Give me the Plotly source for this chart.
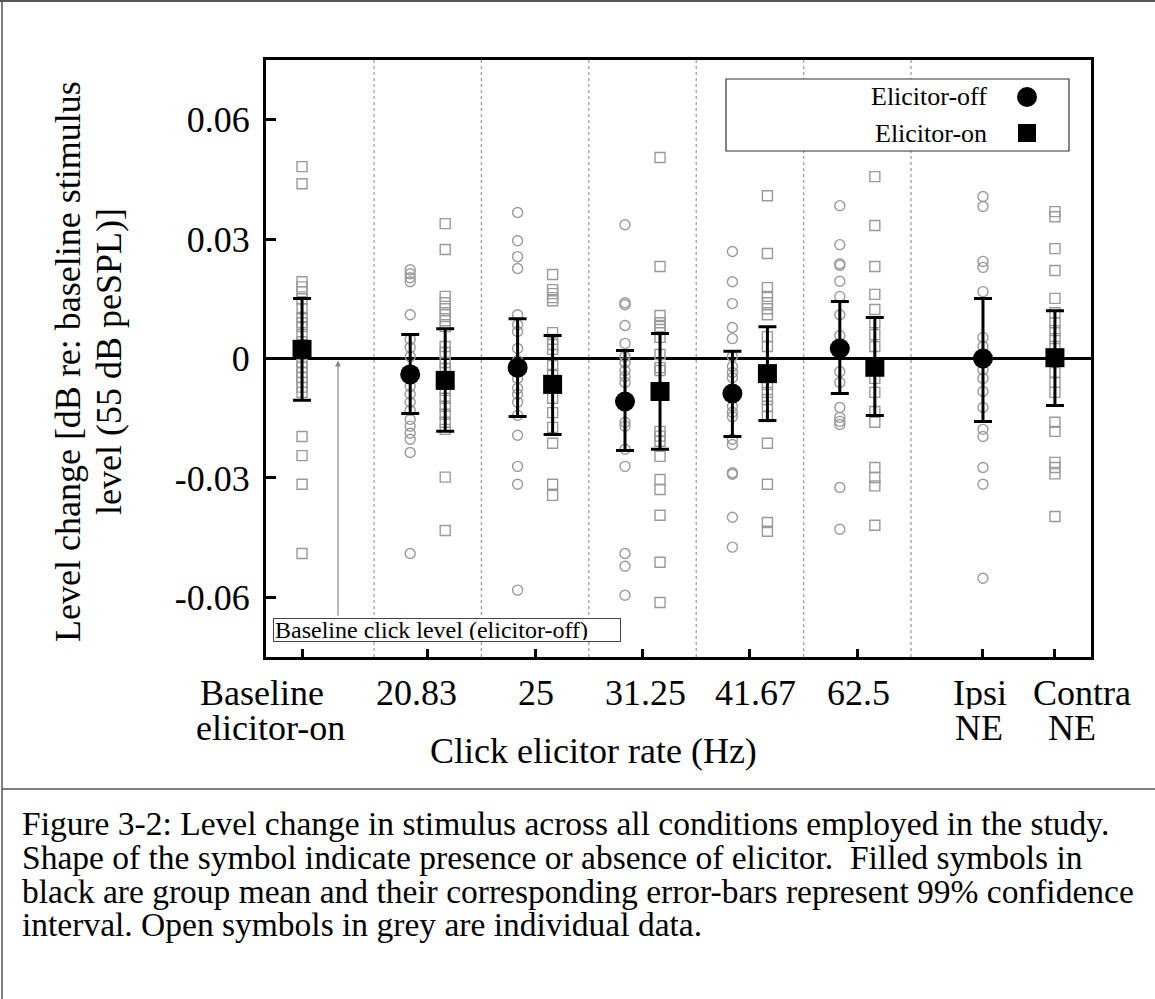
import plotly.graph_objects as go

# ---- condition labels (two text rows under the x axis) ----
label_row1 = ["Baseline", "20.83", "25", "31.25", "41.67", "62.5", "Ipsi", "Contra"]
label_row2 = ["elicitor-on", "", "", "", "", "", "NE", "NE"]
x_title = "Click elicitor rate (Hz)"
y_tick_vals = [-0.06, -0.03, 0.0, 0.03, 0.06]
y_tick_text = ["-0.06", "-0.03", "0", "0.03", "0.06"]

# ---- individual data (dB re: baseline stimulus level) ----
baseline_on = [0.0482, 0.0439, 0.0193, 0.0180, 0.0168, 0.0150, 0.0125, 0.0103, 0.0090,
               0.0080, 0.0060, 0.0042, 0.0025, 0.0010, -0.0010, -0.0022, -0.0035, -0.0048,
               -0.0060, -0.0072, -0.0085, -0.0196, -0.0244, -0.0316, -0.0490]
r2083_off = [0.0223, 0.0213, 0.0203, 0.0193, 0.0110, 0.0048, 0.0028, 0.0005, -0.0030,
             -0.0070, -0.0090, -0.0110, -0.0130, -0.0153, -0.0170, -0.0188, -0.0203,
             -0.0236, -0.0490]
r2083_on = [0.0339, 0.0274, 0.0156, 0.0140, 0.0125, 0.0110, 0.0095, 0.0080, 0.0030,
            0.0015, -0.0010, -0.0025, -0.0080, -0.0100, -0.0120, -0.0140, -0.0160,
            -0.0178, -0.0298, -0.0432]
r25_off = [0.0367, 0.0296, 0.0256, 0.0226, 0.0110, 0.0085, 0.0068, 0.0025, -0.0005,
           -0.0050, -0.0075, -0.0090, -0.0110, -0.0143, -0.0193, -0.0271, -0.0316, -0.0582]
r25_on = [0.0211, 0.0173, 0.0163, 0.0153, 0.0145, 0.0065, 0.0048, 0.0035, 0.0023,
          -0.0018, -0.0040, -0.0100, -0.0136, -0.0173, -0.0213, -0.0316, -0.0344]
r3125_off = [0.0336, 0.0140, 0.0135, 0.0083, 0.0038, 0.0005, -0.0010, -0.0030, -0.0045,
             -0.0060, -0.0160, -0.0170, -0.0228, -0.0271, -0.0490, -0.0522, -0.0595]
r3125_on = [0.0505, 0.0231, 0.0108, 0.0090, 0.0080, 0.0073, 0.0053, 0.0010, -0.0023,
            -0.0030, -0.0183, -0.0195, -0.0208, -0.0246, -0.0304, -0.0329, -0.0394,
            -0.0512, -0.0613]
r4167_off = [0.0269, 0.0193, 0.0138, 0.0078, 0.0050, 0.0005, -0.0020, -0.0035, -0.0048,
             -0.0120, -0.0135, -0.0146, -0.0203, -0.0216, -0.0287, -0.0291, -0.0399, -0.0474]
r4167_on = [0.0409, 0.0264, 0.0178, 0.0156, 0.0140, 0.0125, 0.0110, 0.0055, 0.0030,
            -0.0065, -0.0085, -0.0103, -0.0120, -0.0146, -0.0213, -0.0316, -0.0412, -0.0434]
r625_off = [0.0384, 0.0286, 0.0238, 0.0234, 0.0194, 0.0156, 0.0110, 0.0058, -0.0033,
            -0.0060, -0.0123, -0.0148, -0.0158, -0.0166, -0.0324, -0.0429]
r625_on = [0.0457, 0.0334, 0.0231, 0.0161, 0.0123, 0.0090, 0.0060, 0.0030, -0.0050,
           -0.0085, -0.0133, -0.0160, -0.0274, -0.0299, -0.0320, -0.0419]
ipsi_off = [0.0407, 0.0382, 0.0244, 0.0229, 0.0168, 0.0053, 0.0030, -0.0028, -0.0050,
            -0.0083, -0.0123, -0.0178, -0.0196, -0.0274, -0.0316, -0.0552]
contra_on = [0.0369, 0.0356, 0.0276, 0.0221, 0.0151, 0.0115, 0.0090, 0.0070, 0.0050,
             0.0030, -0.0035, -0.0060, -0.0085, -0.0160, -0.0183, -0.0261, -0.0274,
             -0.0290, -0.0397]

# ---- group means and 99% confidence limits ----
off_groups = ["20.83", "25", "31.25", "41.67", "62.5", "Ipsi"]
off_mean = [-0.0040, -0.0023, -0.0108, -0.0088, 0.0025, 0.0000]
off_low = [-0.0138, -0.0146, -0.0231, -0.0196, -0.0088, -0.0158]
off_high = [0.0060, 0.0100, 0.0020, 0.0018, 0.0143, 0.0151]

on_groups = ["Baseline", "20.83", "25", "31.25", "41.67", "62.5", "Contra"]
on_mean = [0.0023, -0.0055, -0.0065, -0.0083, -0.0038, -0.0022, 0.0002]
on_low = [-0.0105, -0.0183, -0.0191, -0.0228, -0.0156, -0.0143, -0.0118]
on_high = [0.0151, 0.0075, 0.0058, 0.0063, 0.0080, 0.0103, 0.0120]

individual_off = {"20.83": r2083_off, "25": r25_off, "31.25": r3125_off,
                  "41.67": r4167_off, "62.5": r625_off, "Ipsi": ipsi_off}
individual_on = {"Baseline": baseline_on, "20.83": r2083_on, "25": r25_on,
                 "31.25": r3125_on, "41.67": r4167_on, "62.5": r625_on,
                 "Contra": contra_on}

# ---- horizontal layout of the condition slots ----
slot_x = {"Baseline": 0.83, "20.83": 2, "25": 3, "31.25": 4, "41.67": 5,
          "62.5": 6, "Ipsi": 7.17, "Contra": 7.84}
paired = {"20.83", "25", "31.25", "41.67", "62.5"}
pair_shift = 0.163
separators = [1.5, 2.5, 3.5, 4.5, 5.5, 6.5]
X_RANGE = [0.4944, 8.1757]
Y_RANGE = [-0.075, 0.075]


def xpos(group, side):
    if group in paired:
        return slot_x[group] + (-pair_shift if side == "off" else pair_shift)
    return slot_x[group]


SERIF = "Liberation Serif"
GREY = "#9a9a9a"

fig = go.Figure()

# individual listeners (open grey symbols)
xs, ys = [], []
for g, vals in individual_off.items():
    xs += [xpos(g, "off")] * len(vals)
    ys += vals
fig.add_trace(go.Scatter(x=xs, y=ys, mode="markers", showlegend=False, hoverinfo="skip",
                         marker=dict(symbol="circle-open", size=10, color=GREY,
                                     line=dict(width=1.4, color=GREY))))
xs, ys = [], []
for g, vals in individual_on.items():
    xs += [xpos(g, "on")] * len(vals)
    ys += vals
fig.add_trace(go.Scatter(x=xs, y=ys, mode="markers", showlegend=False, hoverinfo="skip",
                         marker=dict(symbol="square-open", size=10, color=GREY,
                                     line=dict(width=1.4, color=GREY))))

# group means with 99% CI
fig.add_trace(go.Scatter(
    x=[xpos(g, "off") for g in off_groups], y=off_mean, mode="markers", showlegend=False,
    marker=dict(symbol="circle", size=20, color="black", line=dict(width=0)),
    error_y=dict(type="data", symmetric=False,
                 array=[h - m for h, m in zip(off_high, off_mean)],
                 arrayminus=[m - l for m, l in zip(off_mean, off_low)],
                 thickness=3, width=9, color="black")))
fig.add_trace(go.Scatter(
    x=[xpos(g, "on") for g in on_groups], y=on_mean, mode="markers", showlegend=False,
    marker=dict(symbol="square", size=19, color="black", line=dict(width=0)),
    error_y=dict(type="data", symmetric=False,
                 array=[h - m for h, m in zip(on_high, on_mean)],
                 arrayminus=[m - l for m, l in zip(on_mean, on_low)],
                 thickness=3, width=9, color="black")))

shapes = []
for s in separators:
    shapes.append(dict(type="line", xref="x", yref="paper", x0=s, x1=s, y0=0, y1=1,
                       line=dict(color="#a0a0a0", width=1.3, dash="dot"), layer="below"))

# page frame: left edge, top edge and caption rule
PL, PR, PT, PB = 266, 1091, 60, 657
def px_x(p):
    return (p - PL) / (PR - PL)
def px_y(p):
    return (PB - p) / (PB - PT)

shapes.append(dict(type="line", xref="paper", yref="paper", x0=px_x(2), x1=px_x(2),
                   y0=px_y(0), y1=px_y(999), line=dict(color="#555", width=1.5)))
shapes.append(dict(type="line", xref="paper", yref="paper", x0=px_x(0), x1=px_x(1155),
                   y0=px_y(1), y1=px_y(1), line=dict(color="#555", width=2)))
shapes.append(dict(type="line", xref="paper", yref="paper", x0=px_x(2), x1=px_x(1155),
                   y0=px_y(789), y1=px_y(789), line=dict(color="#555", width=1.5)))

# legend box with symbols on the right
shapes.append(dict(type="rect", xref="paper", yref="paper", x0=px_x(726), x1=px_x(1069),
                   y0=px_y(151), y1=px_y(79), line=dict(color="#333", width=1.2),
                   fillcolor="white"))
shapes.append(dict(type="circle", xref="paper", yref="paper", xsizemode="pixel",
                   ysizemode="pixel", xanchor=px_x(1027), yanchor=px_y(97),
                   x0=-10, x1=10, y0=-10, y1=10, fillcolor="black", line=dict(width=0)))
shapes.append(dict(type="rect", xref="paper", yref="paper", xsizemode="pixel",
                   ysizemode="pixel", xanchor=px_x(1027), yanchor=px_y(133),
                   x0=-9, x1=9, y0=-9, y1=9, fillcolor="black", line=dict(width=0)))

ann = []
ann.append(dict(xref="paper", yref="paper", x=px_x(989), y=px_y(97), xanchor="right",
                yanchor="middle", showarrow=False, text="Elicitor-off",
                font=dict(family=SERIF, size=26, color="black")))
ann.append(dict(xref="paper", yref="paper", x=px_x(989), y=px_y(133), xanchor="right",
                yanchor="middle", showarrow=False, text="Elicitor-on",
                font=dict(family=SERIF, size=26, color="black")))

# x category labels (two tightly spaced rows)
row1_shift = [-40, -11, 1, 3, 6, 1, -3, 27]
row2_shift = [-32, 0, 0, 0, 0, 0, -4, 17]
groups = list(slot_x.keys())
for i, g in enumerate(groups):
    ann.append(dict(xref="x", yref="paper", x=slot_x[g], y=px_y(693), xshift=row1_shift[i],
                    xanchor="center", yanchor="middle", valign="middle", height=32,
                    showarrow=False, text=label_row1[i],
                    font=dict(family=SERIF, size=36, color="black")))
    if label_row2[i]:
        ann.append(dict(xref="x", yref="paper", x=slot_x[g], y=px_y(728),
                        xshift=row2_shift[i], xanchor="center", yanchor="middle",
                        valign="middle", height=32, showarrow=False, text=label_row2[i],
                        font=dict(family=SERIF, size=36, color="black")))
ann.append(dict(xref="paper", yref="paper", x=px_x(593), y=px_y(751), xanchor="center",
                yanchor="middle", showarrow=False, text=x_title,
                font=dict(family=SERIF, size=36, color="black")))

# y axis title, two rotated lines
ann.append(dict(xref="paper", yref="paper", x=px_x(68), y=px_y(362), xanchor="center",
                yanchor="middle", showarrow=False, textangle=-90,
                text="Level change [dB re: baseline stimulus",
                font=dict(family=SERIF, size=36, color="black")))
ann.append(dict(xref="paper", yref="paper", x=px_x(109), y=px_y(362), xanchor="center",
                yanchor="middle", showarrow=False, textangle=-90,
                text="level (55 dB peSPL)]",
                font=dict(family=SERIF, size=36, color="black")))

# baseline reference note with arrow to the zero line
ann.append(dict(xref="x", yref="y", x=1.165, y=0, ax=1.165, ay=-0.065, axref="x",
                ayref="y", text="", showarrow=True, arrowhead=2, arrowsize=1,
                arrowwidth=1.2, arrowcolor="#8a8a8a", standoff=2))
ann.append(dict(xref="paper", yref="paper", x=px_x(273), y=px_y(630), xanchor="left",
                yanchor="middle", showarrow=False, align="left", width=344, height=20,
                text="Baseline click level (elicitor-off)", bgcolor="white",
                bordercolor="#444", borderwidth=1, borderpad=1,
                font=dict(family=SERIF, size=24, color="black")))

# caption
caption = [
    "Figure 3-2: Level change in stimulus across all conditions employed in the study.",
    "Shape of the symbol indicate presence or absence of elicitor.  Filled symbols in",
    "black are group mean and their corresponding error-bars represent 99% confidence",
    "interval. Open symbols in grey are individual data.",
]
for k, line in enumerate(caption):
    ann.append(dict(xref="paper", yref="paper", x=px_x(20), y=px_y(823 + 34 * k),
                    xanchor="left", yanchor="middle", showarrow=False, text=line,
                    font=dict(family=SERIF, size=33.5, color="black")))

fig.update_layout(
    width=1155, height=999,
    margin=dict(l=PL, r=1155 - PR, t=PT, b=999 - PB, pad=0),
    paper_bgcolor="white", plot_bgcolor="white",
    shapes=shapes, annotations=ann, showlegend=False,
    xaxis=dict(range=X_RANGE, showgrid=False, zeroline=False, showline=True,
               linecolor="black", linewidth=3, mirror=True, ticks="inside",
               ticklen=8, tickwidth=2.5, tickcolor="black",
               tickvals=[slot_x[g] for g in groups], showticklabels=False),
    yaxis=dict(range=Y_RANGE, showgrid=False, zeroline=True, zerolinecolor="black",
               zerolinewidth=2.5, showline=True, linecolor="black", linewidth=3,
               mirror=True, ticks="inside", ticklen=10, tickwidth=2.5, tickcolor="black",
               tickvals=y_tick_vals, ticktext=y_tick_text, ticklabelstandoff=6,
               tickfont=dict(family=SERIF, size=36, color="black")),
)

fig.write_html("out.html")
